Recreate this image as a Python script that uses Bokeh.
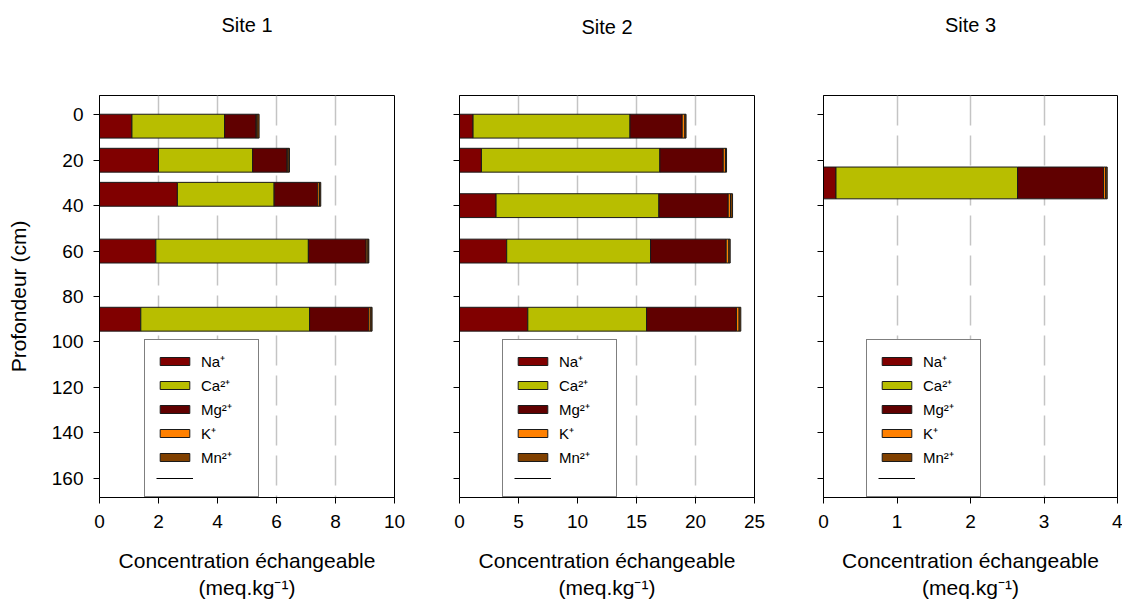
from bokeh.plotting import figure
from bokeh.layouts import row
from bokeh.models import (ColumnDataSource, Legend, LegendItem,
                          FixedTicker, Range1d, LinearAxis)
from bokeh.embed import file_html
from bokeh.resources import INLINE

# ---------------- data ----------------
ions = ["Na", "Ca", "Mg", "K", "Mn"]
ion_labels = ["Na\u207a", "Ca\u00b2\u207a", "Mg\u00b2\u207a", "K\u207a", "Mn\u00b2\u207a"]
colors = ["#800000", "#B8BE00", "#600000", "#FF8000", "#804000"]

depth_ticks = [0, 20, 40, 60, 80, 100, 120, 140, 160]

site1_depth = [5, 20, 35, 60, 90]
site1_na = [1.10, 2.00, 2.64, 1.91, 1.40]
site1_ca = [3.14, 3.19, 3.28, 5.17, 5.72]
site1_mg = [1.07, 1.17, 1.48, 1.96, 2.01]
site1_k = [0.03, 0.03, 0.06, 0.06, 0.07]
site1_mn = [0.07, 0.05, 0.04, 0.03, 0.04]
site1_xticks = [0, 2, 4, 6, 8, 10]

site2_depth = [5, 20, 40, 60, 90]
site2_na = [1.15, 1.86, 3.10, 4.00, 5.79]
site2_ca = [13.30, 15.12, 13.80, 12.19, 10.06]
site2_mg = [4.42, 5.37, 5.87, 6.41, 7.62]
site2_k = [0.23, 0.19, 0.20, 0.23, 0.23]
site2_mn = [0.10, 0.09, 0.17, 0.11, 0.14]
site2_xticks = [0, 5, 10, 15, 20, 25]

site3_depth = [30]
site3_na = [0.17]
site3_ca = [2.47]
site3_mg = [1.17]
site3_k = [0.03]
site3_mn = [0.02]
site3_xticks = [0, 1, 2, 3, 4]

FONT = "Liberation Sans"
XLABEL = "Concentration \u00e9changeable\n(meq.kg\u207b\u00b9)"
FRAME_H = 402


def panel(title, depth, na, ca, mg, k, mn, xticks, bar_h, first,
          border_left, border_right, frame_w, legend_x, title_gap):
    src = ColumnDataSource(dict(depth=depth, Na=na, Ca=ca, Mg=mg, K=k, Mn=mn))
    p = figure(frame_width=frame_w, frame_height=FRAME_H,
               min_border_left=border_left, min_border_right=border_right,
               min_border_top=95, min_border_bottom=94,
               x_range=Range1d(xticks[0], xticks[-1]),
               y_range=Range1d(168.5, -8.5),
               output_backend="svg", toolbar_location=None,
               outline_line_color="black", outline_line_width=1)
    # panel title drawn as the label of an empty top axis
    top = LinearAxis(ticker=FixedTicker(ticks=[]), axis_line_color=None,
                     major_tick_line_color=None, minor_tick_line_color=None,
                     axis_label=title, axis_label_standoff=title_gap,
                     axis_label_text_font=FONT, axis_label_text_font_size="20px",
                     axis_label_text_font_style="normal",
                     axis_label_text_color="black")
    p.add_layout(top, "above")

    rs = p.hbar_stack(ions, y="depth", height=bar_h, color=colors,
                      source=src, line_color="#1a1a1a", line_width=1)
    lr = p.line(x=[float("nan")], y=[float("nan")], line_color="black", line_width=1)

    xa = p.below[0]
    ya = p.left[0]
    xa.ticker = FixedTicker(ticks=xticks)
    ya.ticker = FixedTicker(ticks=depth_ticks)
    p.xgrid.ticker = FixedTicker(ticks=xticks[1:-1])
    p.xgrid.grid_line_color = "#C4C4C4"
    p.xgrid.grid_line_width = 1.5
    p.xgrid.grid_line_dash = "30 10"
    p.ygrid.grid_line_color = None

    for ax in (xa, ya):
        ax.axis_line_color = "black"
        ax.major_tick_line_color = "black"
        ax.minor_tick_line_color = None
        ax.major_tick_out = 6
        ax.major_tick_in = 0
        ax.major_label_text_font = FONT
        ax.major_label_text_font_size = "19px"
        ax.major_label_text_color = "black"
        ax.axis_label_text_font = FONT
        ax.axis_label_text_font_size = "21px"
        ax.axis_label_text_font_style = "normal"
        ax.axis_label_text_color = "black"

    xa.axis_label = XLABEL
    xa.major_label_standoff = 11
    xa.axis_label_standoff = 18
    if first:
        ya.axis_label = "Profondeur (cm)"
        ya.major_label_standoff = 10
        ya.axis_label_standoff = 19
    else:
        ya.major_label_overrides = {t: "" for t in depth_ticks}

    items = [LegendItem(label=lab, renderers=[r]) for lab, r in zip(ion_labels, rs)]
    items.append(LegendItem(label=" ", renderers=[lr]))
    leg = Legend(items=items, location=(legend_x, 0),
                 label_text_font=FONT, label_text_font_size="15px",
                 label_text_color="black",
                 glyph_width=37, glyph_height=10, label_height=14,
                 label_standoff=8, label_width=46, spacing=4, padding=11,
                 border_line_color="black", border_line_width=1,
                 background_fill_color="white", background_fill_alpha=1)
    p.add_layout(leg)
    return p


p1 = panel("Site 1", site1_depth, site1_na, site1_ca, site1_mg, site1_k, site1_mn,
           site1_xticks, 10.5, True, 99, 20, 295, 45, 60)
p2 = panel("Site 2", site2_depth, site2_na, site2_ca, site2_mg, site2_k, site2_mn,
           site2_xticks, 10.5, False, 45, 20, 295, 43, 58)
p3 = panel("Site 3", site3_depth, site3_na, site3_ca, site3_mg, site3_k, site3_mn,
           site3_xticks, 14, False, 49, 5, 294, 43, 60)

layout = row(p1, p2, p3)
open("out.html", "w").write(file_html(layout, INLINE))
